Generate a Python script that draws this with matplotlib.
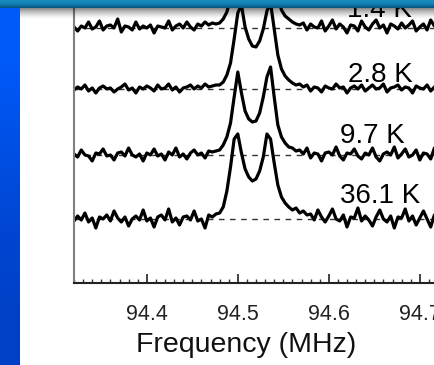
import numpy as np
import matplotlib
matplotlib.use("Agg")
import matplotlib.pyplot as plt
from matplotlib.ticker import MultipleLocator

plt.rcParams['font.family'] = ['Liberation Sans', 'DejaVu Sans']

# frequency grid (MHz), one sample every 4 kHz
freq = np.round(np.arange(94.32, 94.7201, 0.004), 3)

# NMR spectra (arbitrary units, baseline = 0)
spec_36K = [-2, 3, -1, 6, -3, 1, -9, 2, 0, 4,
            -2, 8, 1, -3, 2, -7, 0, 3, -1, 9,
            -2, 1, -8, 2, 4, -1, 10, -3, 1, -6,
            2, 3, -1, 8, -2, 0, -9, 4, 2, 5,
            6, 12, 28, 52, 80, 85, 66, 50, 42, 38,
            40, 48, 62, 85, 80, 56, 34, 22, 16, 12,
            9, 11, 6, 8, 4, 5, -1, 9, 2, -3,
            3, 10, 0, -2, 4, -8, 2, 1, 11, -2,
            3, -1, -7, 2, 9, 0, -3, 3, -9, 2,
            1, 10, -2, 3, -6, 1, 8, 0, -8, 4,
            2]
spec_9K = [1, -2, 5, 0, -1, -6, 2, 1, 6, -1,
           0, -5, 2, 3, -1, 7, 0, -2, 1, -6,
           2, 0, 6, -1, 1, -5, 3, 0, 7, -2,
           1, -4, 2, 5, 0, 2, -3, 4, 3, 4,
           5, 10, 18, 32, 58, 83, 62, 44, 36, 33,
           34, 42, 58, 78, 88, 58, 30, 18, 12, 8,
           7, 4, 5, 1, 7, -3, 2, 1, -6, 2,
           3, 0, 8, -1, -5, 2, 1, 6, -1, -4,
           2, 0, 7, -2, -6, 1, 3, 0, 8, -3,
           1, 6, -2, 0, 5, -5, 2, 1, -4, 7,
           0]
spec_2K = [-1, 2, 0, 4, -2, 1, -4, 1, 3, 0,
           1, -3, 0, 2, 5, -1, 1, -4, 2, 0,
           3, 1, -2, 4, 0, 1, 5, -1, 2, -3,
           1, 2, 4, 0, 3, 1, 5, 2, 3, 4,
           4, 7, 14, 26, 50, 76, 84, 62, 50, 43,
           42, 48, 60, 78, 86, 60, 34, 20, 13, 9,
           6, 4, 5, 2, 4, -2, 2, 1, -3, 3,
           1, 0, 5, 1, 2, -4, 1, 3, 0, 4,
           -2, 1, 4, 0, 1, 5, -3, 1, 2, 4,
           -1, 2, 1, -4, 3, 1, 0, 4, -2, 2,
           1]
spec_1K = [1, -3, 2, 0, 6, -1, 1, 7, -2, 2,
           3, 0, 9, -4, 2, 1, -2, 6, -1, 2,
           0, 3, -5, 2, 1, 0, 7, -2, 2, 4,
           0, 6, 1, -2, 4, 2, 6, 3, 5, 4,
           5, 9, 16, 30, 56, 82, 80, 60, 48, 42,
           42, 48, 60, 80, 86, 60, 32, 18, 12, 9,
           6, 4, 3, 5, -2, 4, 1, 0, 7, -3,
           2, 8, -1, 4, 1, -5, 3, 2, -3, 7,
           1, -2, 4, 8, 0, 3, -5, 4, 2, -1,
           5, 0, 3, 7, -3, 1, 4, -2, 8, 2,
           0]

spectra = [spec_36K, spec_9K, spec_2K, spec_1K]
temps = ["36.1 K", "9.7 K", "2.8 K", "1.4 K"]
offsets = [0, 64, 130, 191]
label_x = [94.700, 94.6835, 94.6923, 94.6912]
label_y = [16, 76, 137, 202]

W, H = 434, 365
fig = plt.figure(figsize=(W / 100, H / 100), dpi=100)
fig.patch.set_facecolor('white')

# main axes, deliberately running past the top/right edge (cropped slide)
ax = fig.add_axes([74 / W, (H - 283) / H, 0.48 * 910 / W, 314 / H])
ax.set_xlim(94.32, 94.80)
ax.set_ylim(-64, 250)

for spec, off in zip(spectra, offsets):
    ax.axhline(off, color='#333333', lw=1.0, ls=(0, (4, 4)), zorder=1)
    ax.plot(freq, np.array(spec) + off, color='black', lw=2.3, zorder=2)

for t, lx, ly in zip(temps, label_x, label_y):
    ax.text(lx, ly, t, ha='right', va='baseline', fontsize=20, color='black')

ax.spines['top'].set_visible(False)
ax.spines['right'].set_visible(False)
ax.spines['left'].set_color('#808080')
ax.spines['left'].set_linewidth(1.5)
ax.spines['bottom'].set_color('#222222')
ax.spines['bottom'].set_linewidth(1.5)
ax.set_yticks([])
ax.xaxis.set_major_locator(MultipleLocator(0.1))
ax.xaxis.set_minor_locator(MultipleLocator(0.01))
ax.tick_params(axis='x', which='major', direction='in', length=6.5, width=1.2,
               labelsize=15.5, pad=15, colors='#222222')
ax.tick_params(axis='x', which='minor', direction='in', length=3, width=1, colors='#333333')
ax.set_xticks([94.4, 94.5, 94.6, 94.7])
ax.set_xticklabels(["94.4", "94.5", "94.6", "94.7"])

fig.text(246 / W, (H - 345) / H, "Frequency (MHz)", ha='center', va='center',
         fontsize=20.5, color='#111111')

# slide decoration: top bar with shadow and blue side bar
ov = fig.add_axes([0, 0, 1, 1], zorder=5)
ov.set_xlim(0, W)
ov.set_ylim(H, 0)
ov.axis('off')
ov.patch.set_alpha(0)
top = np.array([[26, 140, 190], [24, 136, 186], [22, 132, 182], [20, 128, 178],
                [18, 122, 172], [14, 110, 156], [10, 96, 140], [8, 88, 130]]) / 255
ov.imshow(top[:, None, :], extent=(0, W, 8, 0), aspect='auto', interpolation='bilinear')
shade = np.linspace(0, 1, 12)
shadow = np.zeros((12, 1, 4))
shadow[:, 0, 3] = 0.45 * (1 - shade) ** 1.5
ov.imshow(shadow, extent=(20, W, 20, 8), aspect='auto', interpolation='bilinear')
side = np.array([[0, 90, 250], [0, 80, 230], [0, 70, 210], [0, 64, 200]]) / 255
ov.imshow(side[:, None, :], extent=(0, 20, H, 8), aspect='auto', interpolation='bilinear')

fig.savefig("out.png", dpi=100)
